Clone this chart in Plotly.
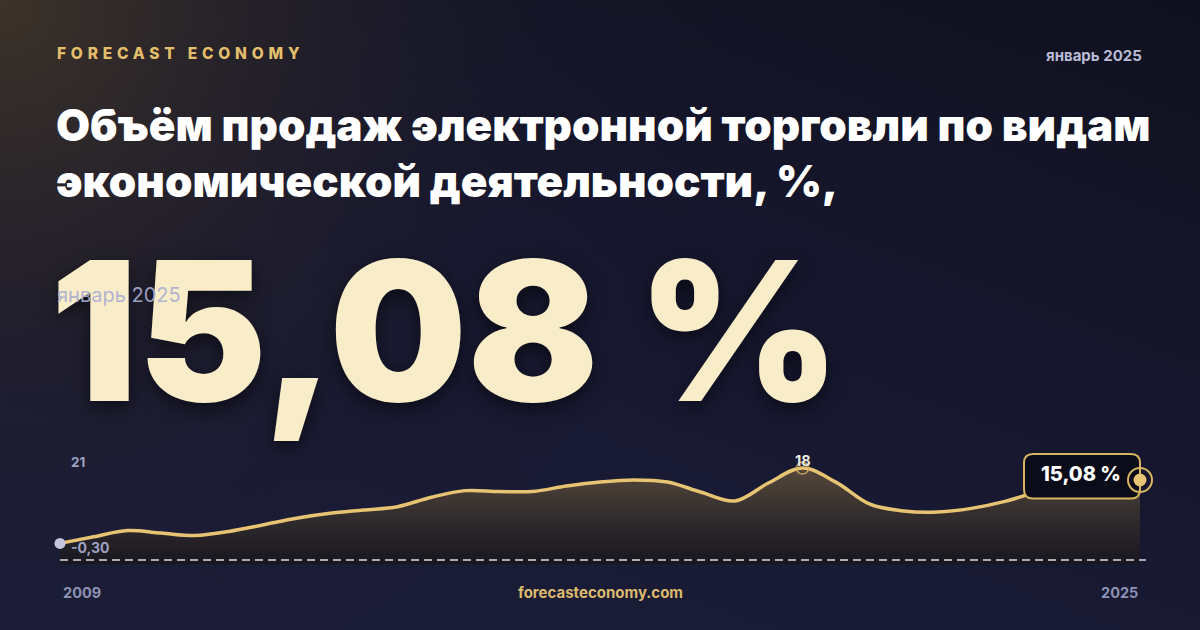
import base64
import plotly.graph_objects as go

# ---------------- data ----------------
YEARS = [2009.0, 2009.5, 2010.0, 2010.5, 2011.0, 2011.5, 2012.0, 2012.5, 2013.0, 2013.5,
         2014.0, 2014.5, 2015.0, 2015.5, 2016.0, 2016.5, 2017.0, 2017.5, 2018.0, 2018.5,
         2019.0, 2019.5, 2020.0, 2020.5, 2021.0, 2021.5, 2022.0, 2022.5, 2023.0, 2023.5,
         2024.0, 2024.5, 2025.0]
VALUES = [-0.30, 1.3, 2.8, 2.2, 1.6, 2.6, 4.15, 5.8, 7.0, 7.8,
          8.6, 10.9, 12.5, 12.3, 12.3, 13.6, 14.6, 15.1, 14.6, 12.1,
          10.0, 14.4, 18.0, 14.5, 9.2, 7.55, 7.3, 8.2, 9.9, 12.3,
          13.8, 14.7, 15.08]
Y_RANGE = [-5.3, 21]
Y_TOP_LABEL = "21"
START_LABEL = "2009"
END_LABEL = "2025"
PERIOD = "январь 2025"
TITLE_LINES = ["Объём продаж электронной торговли по видам",
               "экономической деятельности, %,"]
BRAND = "FORECAST ECONOMY"
SITE = "forecasteconomy.com"

W, H = 1200, 630
GOLD = "#e7c473"
F_REG = "Inter"
F_XB = "Inter ExtraBold"
F_BLK = "Inter Black"


def PX(x):
    return x / W


def PY(y):
    return 1 - y / H


def fmt(v, nd=2):
    return f"{v:.{nd}f}".replace(".", ",")


last_x, last_y = YEARS[-1], VALUES[-1]
first_x, first_y = YEARS[0], VALUES[0]
peak_i = max(range(len(VALUES)), key=lambda i: VALUES[i])
peak_x, peak_y = YEARS[peak_i], VALUES[peak_i]

# plot frame in pixels: data from x=60 to x=1140; a little padding so end marks are not clipped
PLOT_L, PLOT_R, PAD = 60, 1140, 30
yr_per_px = (last_x - first_x) / (PLOT_R - PLOT_L)
x_range = [first_x - PAD * yr_per_px, last_x + PAD * yr_per_px]

# ---------------- background (svg gradient) ----------------
svg = f"""<svg xmlns='http://www.w3.org/2000/svg' width='{W}' height='{H}'>
<defs>
<linearGradient id='b' x1='1' y1='0' x2='0.3' y2='1'>
<stop offset='0' stop-color='#10111e'/>
<stop offset='0.55' stop-color='#171830'/>
<stop offset='1' stop-color='#1b1c37'/>
</linearGradient>
<radialGradient id='r' cx='0' cy='0' r='720' gradientUnits='userSpaceOnUse'>
<stop offset='0' stop-color='#3d3329' stop-opacity='1'/>
<stop offset='0.35' stop-color='#2c2628' stop-opacity='0.7'/>
<stop offset='0.75' stop-color='#1d1b2a' stop-opacity='0.15'/>
<stop offset='1' stop-color='#1d1b2a' stop-opacity='0'/>
</radialGradient>
</defs>
<rect width='{W}' height='{H}' fill='url(#b)'/>
<rect width='{W}' height='{H}' fill='url(#r)'/>
</svg>"""
bg_src = "data:image/svg+xml;base64," + base64.b64encode(svg.encode()).decode()

fig = go.Figure()

# baseline for the area fill
fig.add_trace(go.Scatter(
    x=[first_x, last_x], y=[Y_RANGE[0], Y_RANGE[0]],
    mode="lines", line=dict(width=0, color="rgba(0,0,0,0)"),
    hoverinfo="skip", showlegend=False))

fig.add_trace(go.Scatter(
    x=YEARS, y=VALUES, mode="lines",
    line=dict(color=GOLD, width=3.5, shape="spline", smoothing=1.0),
    fill="tonexty",
    fillgradient=dict(type="vertical",
                      colorscale=[[0, "#18161f"], [0.45, "#2f2a2c"],
                                  [0.8, "#483d35"], [1, "#54483b"]]),
    hoverinfo="skip", showlegend=False))

# start dot
fig.add_trace(go.Scatter(
    x=[first_x], y=[first_y], mode="markers", cliponaxis=False,
    marker=dict(size=11, color="#c3c6de"),
    hoverinfo="skip", showlegend=False))

# peak ring
fig.add_trace(go.Scatter(
    x=[peak_x], y=[peak_y], mode="markers", cliponaxis=False,
    marker=dict(size=12, color="rgba(0,0,0,0)", symbol="circle",
                line=dict(color="rgba(214,176,96,0.85)", width=1.5)),
    hoverinfo="skip", showlegend=False))

shapes = []
# dashed baseline
shapes.append(dict(type="line", xref="paper", yref="paper",
                   x0=PX(60), x1=PX(1146), y0=PY(560), y1=PY(560),
                   line=dict(color="rgba(255,255,255,0.85)", width=1.5, dash="8px,5px"),
                   layer="above"))

# badge (rounded rect)
bx0, bx1, by0, by1, rr = 1024, 1140, 454, 498.5, 9
path = (f"M {PX(bx0+rr)},{PY(by0)} L {PX(bx1-rr)},{PY(by0)} "
        f"Q {PX(bx1)},{PY(by0)} {PX(bx1)},{PY(by0+rr)} "
        f"L {PX(bx1)},{PY(by1-rr)} Q {PX(bx1)},{PY(by1)} {PX(bx1-rr)},{PY(by1)} "
        f"L {PX(bx0+rr)},{PY(by1)} Q {PX(bx0)},{PY(by1)} {PX(bx0)},{PY(by1-rr)} "
        f"L {PX(bx0)},{PY(by0+rr)} Q {PX(bx0)},{PY(by0)} {PX(bx0+rr)},{PY(by0)} Z")
shapes.append(dict(type="path", xref="paper", yref="paper", path=path,
                   fillcolor="#0b0c19", line=dict(color="#d9b563", width=2),
                   layer="above"))

# end marker: inner dot + ring (pixel sized, anchored on last data point)
shapes.append(dict(type="circle", xref="x", yref="y",
                   xsizemode="pixel", ysizemode="pixel",
                   xanchor=last_x, yanchor=last_y,
                   x0=-6.5, x1=6.5, y0=-6.5, y1=6.5,
                   fillcolor=GOLD, line=dict(width=0), layer="above"))
shapes.append(dict(type="circle", xref="x", yref="y",
                   xsizemode="pixel", ysizemode="pixel",
                   xanchor=last_x, yanchor=last_y,
                   x0=-12, x1=12, y0=-12, y1=12,
                   fillcolor="rgba(0,0,0,0)", line=dict(color="#d9b563", width=2),
                   layer="above"))

ann = []


def text(x, y, s, size, color, family=F_REG, weight=400, xanchor="left", yanchor="middle", **kw):
    ann.append(dict(x=PX(x), y=PY(y), xref="paper", yref="paper", text=s,
                    showarrow=False, xanchor=xanchor, yanchor=yanchor,
                    font=dict(family=family, size=size, color=color, weight=weight, **kw)))


# header
text(55, 53, f"<span style='letter-spacing:4.8px'>{BRAND}</span>", 15.5, "#e3bf6c", F_XB, 800)
text(1144, 55, PERIOD, 15, "#b9bcd6", F_REG, 700, xanchor="right")

# title
text(54, 125, TITLE_LINES[0], 44, "#ffffff", F_BLK, 900)
text(54, 181, TITLE_LINES[1], 44, "#ffffff", F_BLK, 900)

# big number
text(48, 330, f"{fmt(last_y)} %", 194, "#f8ecc9", F_BLK, 900,
     shadow="0px 6px 18px rgba(0,0,0,0.55)")
text(55, 295, PERIOD, 20, "rgba(170,174,210,0.92)", F_REG, 400)

# chart labels
text(69, 462, Y_TOP_LABEL, 13.5, "#9da1c3", F_REG, 700)
ann.append(dict(x=first_x, y=first_y, xref="x", yref="y", text=fmt(first_y),
                showarrow=False, xanchor="left", yanchor="middle", xshift=9, yshift=-4,
                font=dict(family=F_REG, size=14, color="#9da1c3", weight=700)))
ann.append(dict(x=peak_x, y=peak_y, xref="x", yref="y", text=f"{peak_y:.0f}",
                showarrow=False, xanchor="center", yanchor="middle", yshift=7,
                font=dict(family=F_REG, size=14.5, color="#ece8df", weight=700)))
text((bx0 + bx1) / 2 - 1, 474, f"{fmt(last_y)} %", 20, "#ffffff", F_XB, 800, xanchor="center")

# footer
text(61, 592, START_LABEL, 14.5, "#8d92b4", F_REG, 700)
text(1140, 592, END_LABEL, 14.5, "#8d92b4", F_REG, 700, xanchor="right")
text(600, 592, SITE, 15, "#dcb96c", F_REG, 700, xanchor="center")

fig.update_layout(
    width=W, height=H,
    margin=dict(l=0, r=0, t=0, b=0),
    paper_bgcolor="#171830",
    plot_bgcolor="rgba(0,0,0,0)",
    images=[dict(source=bg_src, xref="paper", yref="paper", x=0, y=1,
                 sizex=1, sizey=1, xanchor="left", yanchor="top",
                 sizing="stretch", layer="below")],
    xaxis=dict(domain=[PX(PLOT_L - PAD), PX(PLOT_R + PAD)], range=x_range,
               visible=False, fixedrange=True),
    yaxis=dict(domain=[PY(564), PY(455.6)], range=Y_RANGE,
               visible=False, fixedrange=True),
    shapes=shapes,
    annotations=ann,
    showlegend=False,
    hovermode=False,
)

fig.write_html("out.html", config={"displayModeBar": False, "staticPlot": True},
               post_script="document.body.style.margin='0';")
